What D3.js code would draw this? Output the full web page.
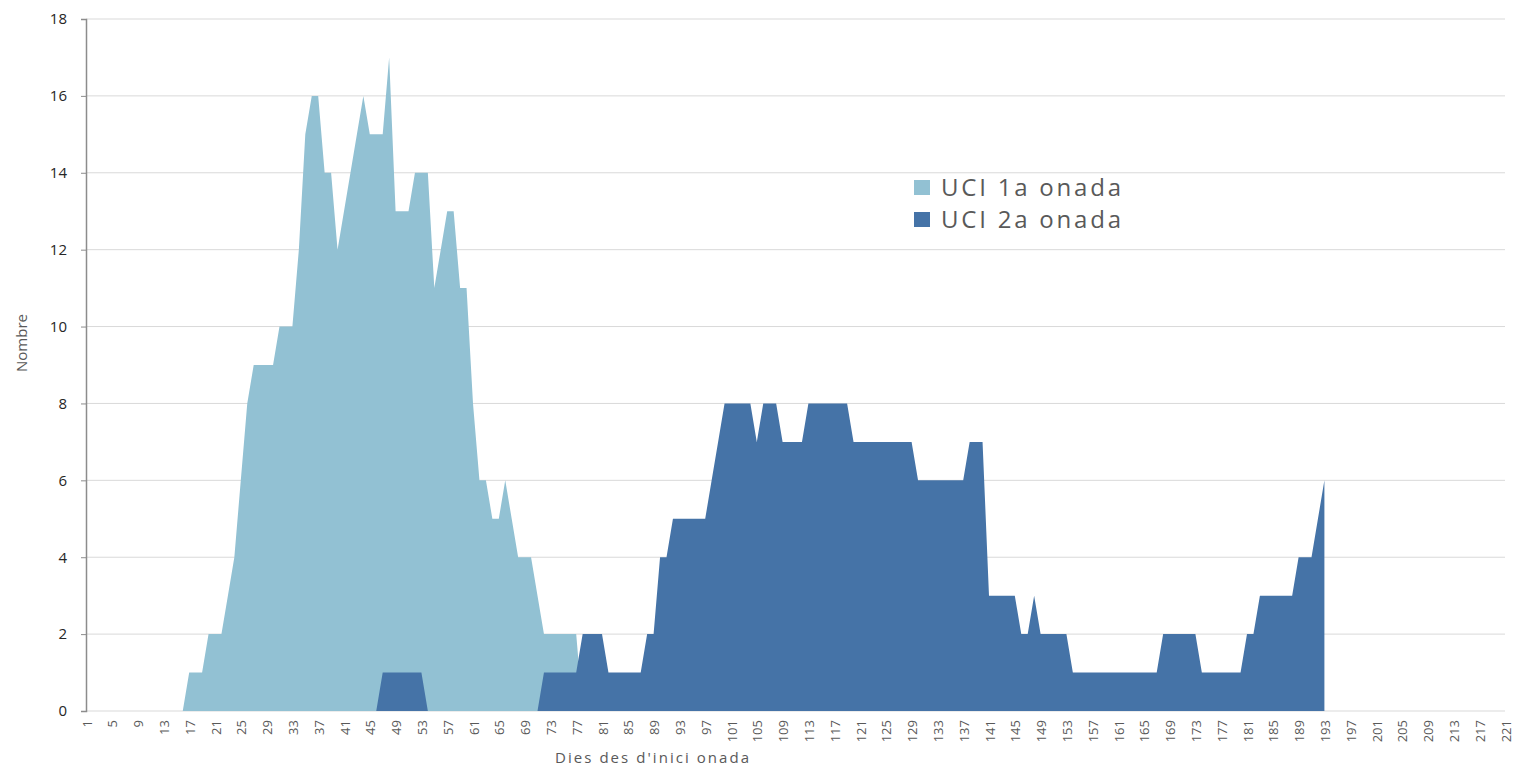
<!DOCTYPE html>
<html>
<head>
<meta charset="utf-8">
<script src="https://cdn.jsdelivr.net/npm/d3@7"></script>
<style>
    body { margin: 0; background: #fff; }
    svg { display: block; font-family: "Open Sans", "DejaVu Sans", sans-serif; }
</style>
</head>
<body>
<svg id="chart" width="1517" height="768"></svg>
<script>
// dies 1..221 (categories de l'eix X)
const days = d3.range(1, 222);

// UCI 1a onada, dies 1..78
const wave1 = [
    0, 0, 0, 0, 0, 0, 0, 0, 0, 0,
    0, 0, 0, 0, 0, 0, 1, 1, 1, 2,
    2, 2, 3, 4, 6, 8, 9, 9, 9, 9,
    10, 10, 10, 12, 15, 16, 16, 14, 14, 12,
    13, 14, 15, 16, 15, 15, 15, 17, 13, 13,
    13, 14, 14, 14, 11, 12, 13, 13, 11, 11,
    8, 6, 6, 5, 5, 6, 5, 4, 4, 4,
    3, 2, 2, 2, 2, 2, 2, 0
];

// UCI 2a onada, dies 1..193
const wave2 = [
    0, 0, 0, 0, 0, 0, 0, 0, 0, 0,
    0, 0, 0, 0, 0, 0, 0, 0, 0, 0,
    0, 0, 0, 0, 0, 0, 0, 0, 0, 0,
    0, 0, 0, 0, 0, 0, 0, 0, 0, 0,
    0, 0, 0, 0, 0, 0, 1, 1, 1, 1,
    1, 1, 1, 0, 0, 0, 0, 0, 0, 0,
    0, 0, 0, 0, 0, 0, 0, 0, 0, 0,
    0, 1, 1, 1, 1, 1, 1, 2, 2, 2,
    2, 1, 1, 1, 1, 1, 1, 2, 2, 4,
    4, 5, 5, 5, 5, 5, 5, 6, 7, 8,
    8, 8, 8, 8, 7, 8, 8, 8, 7, 7,
    7, 7, 8, 8, 8, 8, 8, 8, 8, 7,
    7, 7, 7, 7, 7, 7, 7, 7, 7, 6,
    6, 6, 6, 6, 6, 6, 6, 7, 7, 7,
    3, 3, 3, 3, 3, 2, 2, 3, 2, 2,
    2, 2, 2, 1, 1, 1, 1, 1, 1, 1,
    1, 1, 1, 1, 1, 1, 1, 2, 2, 2,
    2, 2, 2, 1, 1, 1, 1, 1, 1, 1,
    2, 2, 3, 3, 3, 3, 3, 3, 4, 4,
    4, 5, 6
];

const seriesNames = ["UCI 1a onada", "UCI 2a onada"];
const seriesColors = ["#92c1d3", "#4573a7"];
const yTicks = [0, 2, 4, 6, 8, 10, 12, 14, 16, 18];
const xTickLabels = days.filter(d => (d - 1) % 4 === 0);

const svg = d3.select("#chart");
const plotLeft = 86, plotRight = 1505, plotTop = 19, plotBottom = 711;

const x = d3.scalePoint().domain(days).range([plotLeft, plotRight]);
const y = d3.scaleLinear().domain([0, 18]).range([plotBottom, plotTop]);

// quadrícula horitzontal
svg.append("g")
    .selectAll("line")
    .data(yTicks)
    .enter().append("line")
    .attr("x1", plotLeft)
    .attr("x2", plotRight)
    .attr("y1", d => y(d))
    .attr("y2", d => y(d))
    .attr("stroke", "#d9d9d9")
    .attr("stroke-width", 1);

// àrees
const area = d3.area()
    .x(d => x(d.day))
    .y0(y(0))
    .y1(d => y(d.v));

[wave1, wave2].forEach((vals, i) => {
    const pts = vals.map((v, k) => ({ day: days[k], v: v }));
    svg.append("path")
        .datum(pts)
        .attr("d", area)
        .attr("fill", seriesColors[i]);
});

// eix Y
const yAxis = svg.append("g")
    .attr("transform", `translate(${plotLeft},0)`)
    .call(d3.axisLeft(y).tickValues(yTicks).tickSize(5).tickPadding(14));
yAxis.select(".domain").attr("stroke", "#8c8c8c").attr("stroke-width", 1.5);
yAxis.selectAll(".tick line").attr("stroke", "#8c8c8c");
yAxis.selectAll(".tick text")
    .attr("font-size", "15px")
    .attr("font-family", "'Open Sans', sans-serif")
    .attr("fill", "#262626");

// eix X: etiquetes girades
svg.append("g")
    .selectAll("text")
    .data(xTickLabels)
    .enter().append("text")
    .attr("transform", d => `translate(${x(d) + 1},720) rotate(-90)`)
    .attr("text-anchor", "end")
    .attr("dy", "0.35em")
    .attr("font-size", "13px")
    .attr("fill", "#595959")
    .text(d => d);

// títols dels eixos
svg.append("text")
    .attr("x", 652)
    .attr("y", 763)
    .attr("text-anchor", "middle")
    .attr("font-size", "15px")
    .attr("fill", "#595959")
    .attr("textLength", 194)
    .attr("lengthAdjust", "spacing")
    .text("Dies des d'inici onada");

svg.append("text")
    .attr("transform", "translate(27,343) rotate(-90)")
    .attr("text-anchor", "middle")
    .attr("font-size", "15px")
    .attr("fill", "#595959")
    .text("Nombre");

// llegenda
const legend = svg.append("g").attr("transform", "translate(914,180)");
seriesNames.forEach((name, i) => {
    legend.append("rect")
        .attr("x", 0)
        .attr("y", i * 32)
        .attr("width", 16)
        .attr("height", 15)
        .attr("fill", seriesColors[i]);
    legend.append("text")
        .attr("x", 27)
        .attr("y", i * 32 + 16)
        .attr("font-size", "24px")
        .attr("fill", "#595959")
        .attr("textLength", 180)
        .attr("lengthAdjust", "spacing")
        .text(name);
});
</script>
</body>
</html>
